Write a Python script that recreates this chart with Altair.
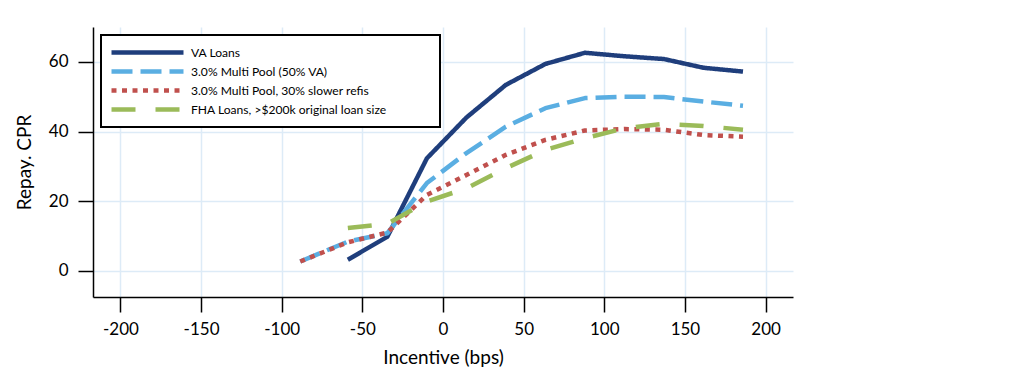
import altair as alt
import pandas as pd

# Data
incentive = [-88.5, -59, -34.5, -10, 14.5, 39, 63.5, 88, 112.5, 137, 161.5, 186]
va_loans = [None, 3.2, 9.8, 32.3, 44.0, 53.4, 59.4, 62.6, 61.6, 60.8, 58.3, 57.2]
multi_pool = [2.7, 8.4, 10.8, 25.2, 33.8, 41.4, 46.7, 49.6, 50.0, 49.9, 48.6, 47.4]
multi_slow = [2.7, 8.2, 11.0, 21.8, 27.5, 33.3, 37.6, 40.3, 40.7, 40.5, 39.0, 38.5]
fha_loans = [None, 12.3, 13.5, 19.9, 23.7, 29.5, 34.7, 38.1, 40.9, 42.2, 41.6, 40.5]

series_names = [
    "VA Loans",
    "3.0% Multi Pool (50% VA)",
    "3.0% Multi Pool, 30% slower refis",
    "FHA Loans, >$200k original loan size",
]
series_values = [va_loans, multi_pool, multi_slow, fha_loans]
colors = ["#1F3E7C", "#5AAEE2", "#C0504D", "#9BBB59"]
dashes = [[1, 0], [21, 8], [5, 5.5], [24, 20]]

x_ticks = [-200, -150, -100, -50, 0, 50, 100, 150, 200]
y_ticks = [0, 20, 40, 60]

rows = []
for name, vals in zip(series_names, series_values):
    for x, y in zip(incentive, vals):
        if y is not None:
            rows.append({"series": name, "incentive": x, "cpr": y})
df = pd.DataFrame(rows)

pad_blank = "\u2800" * 5

legend = alt.Legend(
    orient="none",
    legendX=8,
    legendY=8,
    title=None,
    symbolType="stroke",
    symbolSize=5184,
    symbolStrokeWidth=4.5,
    clipHeight=19,
    rowPadding=0,
    padding=8,
    labelOffset=5,
    labelLimit=600,
    labelFont="Lato",
    labelFontSize=12.1,
    labelColor="#000000",
    fillColor="#FFFFFF",
    strokeColor="#000000",
    labelExpr="datum.label + '" + pad_blank + "'",
)

chart = (
    alt.Chart(df)
    .mark_line(strokeWidth=4.5, strokeCap="butt", strokeJoin="round")
    .encode(
        x=alt.X(
            "incentive:Q",
            scale=alt.Scale(domain=[-217, 217], nice=False, zero=False),
            axis=alt.Axis(
                values=x_ticks,
                title="Incentive (bps)",
                labelPadding=9,
                titlePadding=11,
                labelExpr="'' + datum.value",
            ),
        ),
        y=alt.Y(
            "cpr:Q",
            scale=alt.Scale(domain=[-7.5, 70], nice=False, zero=False),
            axis=alt.Axis(
                values=y_ticks,
                title="Repay. CPR",
                labelPadding=10,
                titlePadding=14,
                labelExpr="'' + datum.value",
            ),
        ),
        color=alt.Color(
            "series:N",
            scale=alt.Scale(domain=series_names, range=colors),
            legend=legend,
        ),
        strokeDash=alt.StrokeDash(
            "series:N",
            scale=alt.Scale(domain=series_names, range=dashes),
            legend=legend,
        ),
        order=alt.Order("incentive:Q"),
    )
    .properties(
        width=700,
        height=270,
        autosize=alt.AutoSizeParams(type="none"),
        padding={"left": 85, "top": 19, "right": 20, "bottom": 80},
    )
    .configure_view(stroke=None)
    .configure_legend(strokeWidth=2)
    .configure_axis(
        grid=True,
        gridColor="#DDEBF7",
        gridWidth=1.5,
        domainColor="#000000",
        domainWidth=1.5,
        tickColor="#000000",
        tickWidth=1.5,
        tickSize=15,
        labelFont="Lato",
        labelFontSize=17,
        labelColor="#000000",
        titleFont="Lato",
        titleFontSize=19,
        titleFontWeight="normal",
        titleColor="#000000",
    )
)

chart.save("out.html", embed_options={"renderer": "svg", "actions": False})
